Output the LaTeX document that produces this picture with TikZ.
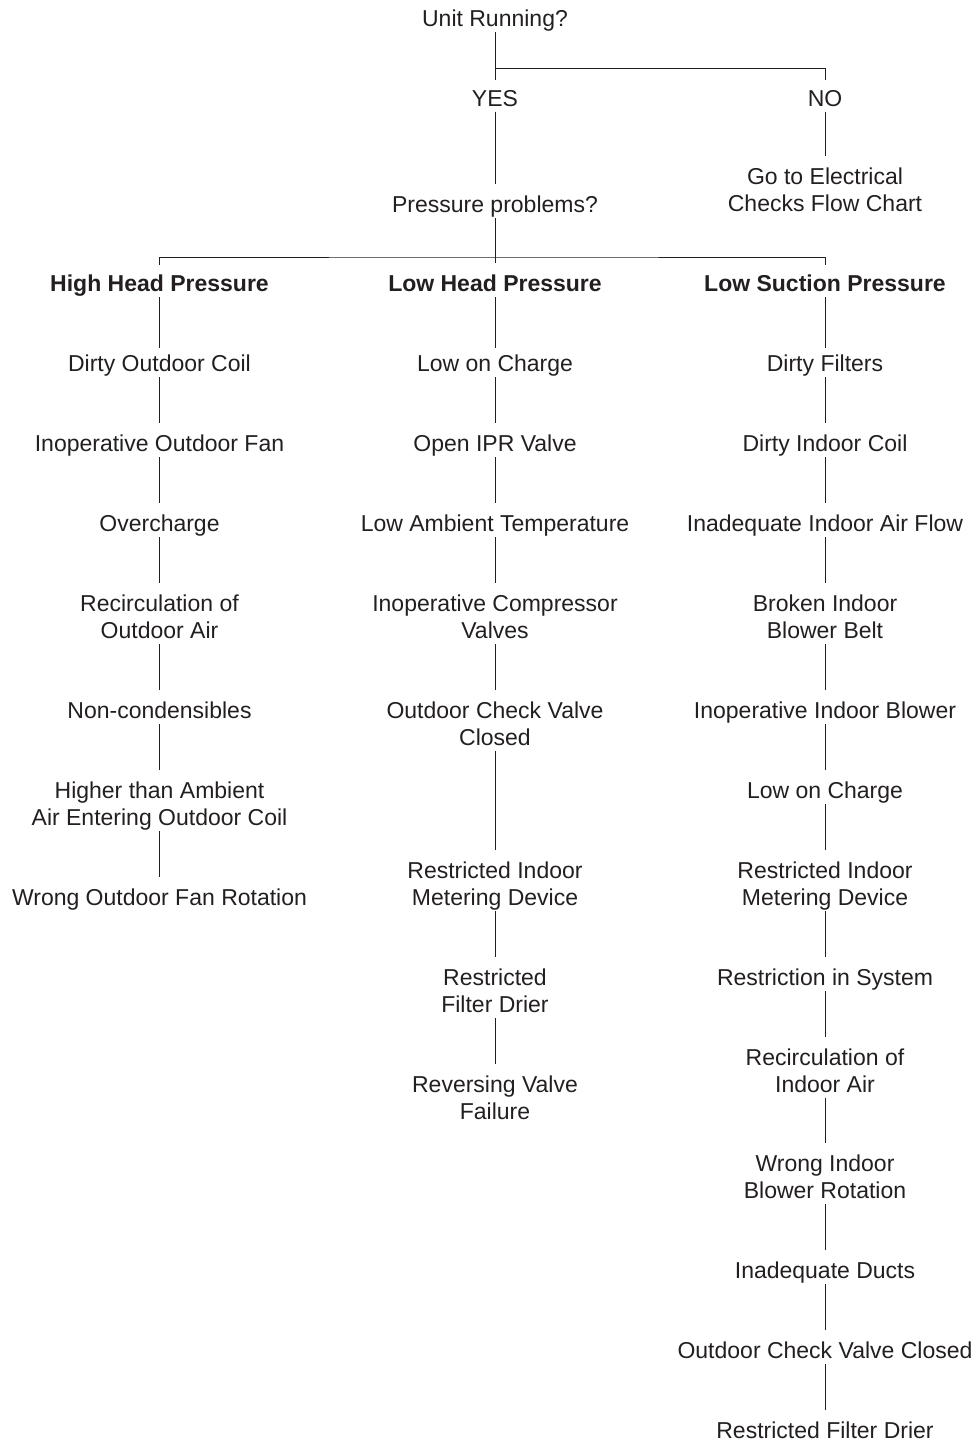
\documentclass[tikz,border=0pt]{standalone}
\usepackage{fontspec}
\setmainfont{Liberation Sans}
\definecolor{ink}{RGB}{35,31,32}
\begin{document}
\begin{tikzpicture}[x=1pt,y=-1pt,
  lbl/.style={anchor=north,inner sep=0pt,align=center,text=ink,
    font=\fontsize{23}{26.7}\selectfont,
    execute at begin node={\vphantom{X}},
    execute at end node={\vphantom{g}}},
  hdr/.style={lbl,font=\fontsize{23}{26.7}\selectfont\bfseries},
  conn/.style={draw=ink,line width=1pt,shorten >=12pt,shorten <=0.5pt},
  first/.style={conn,shorten >=7pt}]
\useasboundingbox (0,0) rectangle (977,1443);
% top
\node[lbl] (unit) at (495,10) {Unit Running?};
\node[lbl] (yes) at (495,90) {YES};
\node[lbl] (no) at (825,90) {NO};
\node[lbl] (elec) at (825,168) {Go to Electrical\\Checks Flow Chart};
\node[lbl] (press) at (495,195.5) {Pressure problems?};
\coordinate (f1) at (495,68);
\coordinate (f2) at (495,257);
\draw[conn,shorten >=10pt] (unit.south) -- (f1) -| (no.north);
\draw[conn,shorten >=10pt] (f1) -- (yes.north);
\draw[conn] (yes.south) -- (press.north);
\draw[conn,shorten >=12pt] (no.south) -- (elec.north);
% headers
\node[hdr] (hh) at (159.5,275) {High Head Pressure};
\node[hdr] (lh) at (495,275) {Low Head Pressure};
\node[hdr] (ls) at (825,275) {Low Suction Pressure};
\draw[conn,shorten >=12pt] (press.south) -- (lh.north);
\draw[conn,shorten <=10pt,shorten >=10pt] (hh.north) |- (f2) -| (ls.north);
% left column
\node[lbl] (l1) at (159.5,355) {Dirty Outdoor Coil};
\node[lbl] (l2) at (159.5,435) {Inoperative Outdoor Fan};
\node[lbl] (l3) at (159.5,515) {Overcharge};
\node[lbl] (l4) at (159.5,595) {Recirculation of\\Outdoor Air};
\node[lbl] (l5) at (159.5,702) {Non-condensibles};
\node[lbl] (l6) at (159.5,782) {Higher than Ambient\\Air Entering Outdoor Coil};
\node[lbl] (l7) at (159.5,889) {Wrong Outdoor Fan Rotation};
\draw[first] (hh.south) -- (l1.north);
\draw[conn] (l1.south) -- (l2.north);
\draw[conn] (l2.south) -- (l3.north);
\draw[conn] (l3.south) -- (l4.north);
\draw[conn] (l4.south) -- (l5.north);
\draw[conn] (l5.south) -- (l6.north);
\draw[conn] (l6.south) -- (l7.north);
% middle column
\node[lbl] (m1) at (495,355) {Low on Charge};
\node[lbl] (m2) at (495,435) {Open IPR Valve};
\node[lbl] (m3) at (495,515) {Low Ambient Temperature};
\node[lbl] (m4) at (495,595) {Inoperative Compressor\\Valves};
\node[lbl] (m5) at (495,702) {Outdoor Check Valve\\Closed};
\node[lbl] (m6) at (495,862) {Restricted Indoor\\Metering Device};
\node[lbl] (m7) at (495,969) {Restricted\\Filter Drier};
\node[lbl] (m8) at (495,1076) {Reversing Valve\\Failure};
\draw[first] (lh.south) -- (m1.north);
\draw[conn] (m1.south) -- (m2.north);
\draw[conn] (m2.south) -- (m3.north);
\draw[conn] (m3.south) -- (m4.north);
\draw[conn] (m4.south) -- (m5.north);
\draw[conn] (m5.south) -- (m6.north);
\draw[conn] (m6.south) -- (m7.north);
\draw[conn] (m7.south) -- (m8.north);
% right column
\node[lbl] (r1) at (825,355) {Dirty Filters};
\node[lbl] (r2) at (825,435) {Dirty Indoor Coil};
\node[lbl] (r3) at (825,515) {Inadequate Indoor Air Flow};
\node[lbl] (r4) at (825,595) {Broken Indoor\\Blower Belt};
\node[lbl] (r5) at (825,702) {Inoperative Indoor Blower};
\node[lbl] (r6) at (825,782) {Low on Charge};
\node[lbl] (r7) at (825,862) {Restricted Indoor\\Metering Device};
\node[lbl] (r8) at (825,969) {Restriction in System};
\node[lbl] (r9) at (825,1049) {Recirculation of\\Indoor Air};
\node[lbl] (r10) at (825,1155) {Wrong Indoor\\Blower Rotation};
\node[lbl] (r11) at (825,1262) {Inadequate Ducts};
\node[lbl] (r12) at (825,1342) {Outdoor Check Valve Closed};
\node[lbl] (r13) at (825,1422) {Restricted Filter Drier};
\draw[first] (ls.south) -- (r1.north);
\draw[conn] (r1.south) -- (r2.north);
\draw[conn] (r2.south) -- (r3.north);
\draw[conn] (r3.south) -- (r4.north);
\draw[conn] (r4.south) -- (r5.north);
\draw[conn] (r5.south) -- (r6.north);
\draw[conn] (r6.south) -- (r7.north);
\draw[conn] (r7.south) -- (r8.north);
\draw[conn] (r8.south) -- (r9.north);
\draw[conn] (r9.south) -- (r10.north);
\draw[conn] (r10.south) -- (r11.north);
\draw[conn] (r11.south) -- (r12.north);
\draw[conn] (r12.south) -- (r13.north);
\end{tikzpicture}
\end{document}
